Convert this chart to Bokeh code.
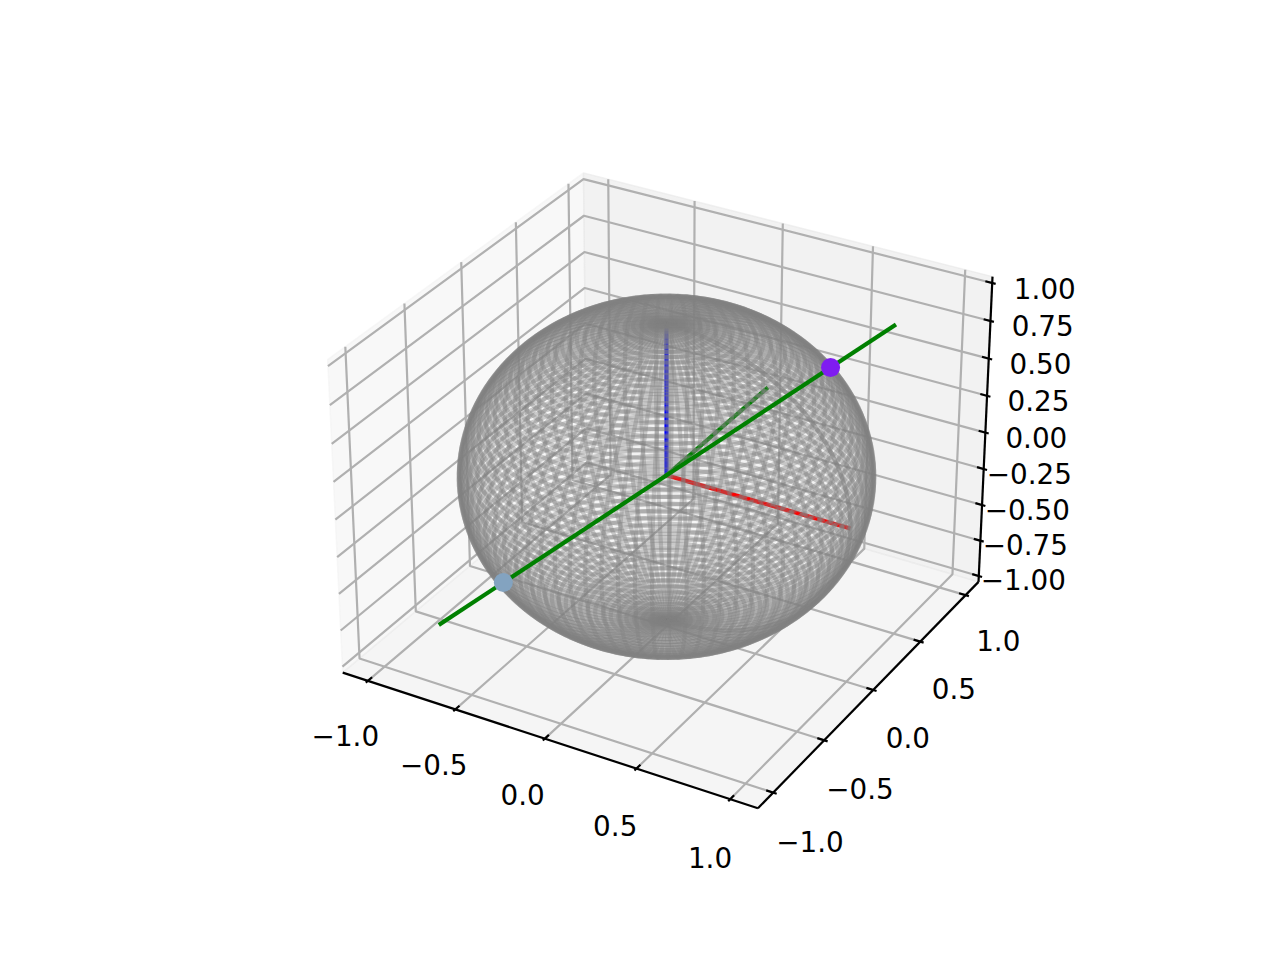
import numpy as np
from bokeh.plotting import figure
from bokeh.models import Range1d
from bokeh.core.properties import value
from bokeh.embed import file_html
from bokeh.resources import INLINE

# --- chart values ---
x_ticks = [-1.0, -0.5, 0.0, 0.5, 1.0]
y_ticks = [-1.0, -0.5, 0.0, 0.5, 1.0]
z_ticks = [-1.0, -0.75, -0.5, -0.25, 0.0, 0.25, 0.5, 0.75, 1.0]
x_tick_labels = ["\u22121.0", "\u22120.5", "0.0", "0.5", "1.0"]
y_tick_labels = ["\u22121.0", "\u22120.5", "0.0", "0.5", "1.0"]
z_tick_labels = ["\u22121.00", "\u22120.75", "\u22120.50", "\u22120.25", "0.00", "0.25", "0.50", "0.75", "1.00"]
x_lim = (-1.1458, 1.1458)
y_lim = (-1.1458, 1.1458)
z_lim = (-1.0417, 1.0417)
sphere_radius = 1.0
n_u = 80
n_v = 80
origin = (0.0, 0.0, 0.0)
x_unit = (1.0, 0.0, 0.0)
y_unit = (0.0, 1.0, 0.0)
z_unit = (0.0, 0.0, 1.0)
state_vector_from = (-0.8, -0.8, -0.8)
state_vector_to = (0.8, 0.8, 0.8)
point_up = (0.577, 0.577, 0.577)
point_down = (-0.577, -0.577, -0.577)

# --- matplotlib-like 3D camera ---
ELEV, AZIM, DIST = np.radians(30.0), np.radians(-60.0), 10.0
ASPECT = np.array([4.0, 4.0, 3.0]) * 1.8294640721620434 * 25 / 24 / np.linalg.norm([4, 4, 3])
PS = np.array([np.cos(ELEV) * np.cos(AZIM), np.cos(ELEV) * np.sin(AZIM), np.sin(ELEV)])
EYE = ASPECT / 2 + DIST * PS
U = np.cross([0, 0, 1.0], PS); U /= np.linalg.norm(U)
V = np.cross(PS, U)
MINS = np.array([x_lim[0], y_lim[0], z_lim[0]])
MAXS = np.array([x_lim[1], y_lim[1], z_lim[1]])
AX_L, AX_B, AX_S = 286.4, 105.6, 739.2
XL, XH = -0.95 / DIST, 0.9 / DIST


def proj(pts):
    pts = np.atleast_2d(np.asarray(pts, float))
    b = (pts - MINS) / (MAXS - MINS) * ASPECT - EYE
    d = -(b @ PS)
    sx = (b @ U) / d
    sy = (b @ V) / d
    px = AX_L + (sx - XL) / (XH - XL) * AX_S
    py = 960 - AX_B - (sy - XL) / (XH - XL) * AX_S
    return px, py


p = figure(width=1280, height=960, x_range=Range1d(0, 1280), y_range=Range1d(960, 0),
           output_backend="svg", toolbar_location=None, min_border=0,
           background_fill_color="white", border_fill_color="white", outline_line_color=None)
p.axis.visible = False
p.grid.visible = False

x0, y0, z0 = MINS
x1, y1, z1 = MAXS


def poly(corners, grey):
    px, py = proj(corners)
    c = (int(grey * 255),) * 3
    p.patch(list(px), list(py), fill_color=c, fill_alpha=0.5, line_color=c, line_alpha=0.5, line_width=1.4)


poly([(x0, y0, z0), (x0, y1, z0), (x0, y1, z1), (x0, y0, z1)], 0.95)
poly([(x0, y1, z0), (x1, y1, z0), (x1, y1, z1), (x0, y1, z1)], 0.90)
poly([(x0, y0, z0), (x1, y0, z0), (x1, y1, z0), (x0, y1, z0)], 0.925)

# gridlines
gx, gy = [], []
def add_grid(pts):
    a, b = proj(pts)
    gx.append(list(a)); gy.append(list(b))
for t in x_ticks:
    add_grid([(t, y0, z0), (t, y1, z0), (t, y1, z1)])
for t in y_ticks:
    add_grid([(x0, t, z1), (x0, t, z0), (x1, t, z0)])
for t in z_ticks:
    add_grid([(x0, y0, t), (x0, y1, t), (x1, y1, t)])
p.multi_line(gx, gy, line_color="#b0b0b0", line_width=2.2)

# axis lines and ticks
lw = 2.2
def seg(a, b):
    px, py = proj([a, b])
    p.line(list(px), list(py), line_color="black", line_width=lw)

seg((x0, y0, z0), (x1, y0, z0))
seg((x1, y0, z0), (x1, y1, z0))
seg((x1, y1, z0), (x1, y1, z1))

DELTA = (MAXS - MINS) * 0.08
LABEL_D = (3.5 + 21.0) * 48 / (2 * 739.2 * 72 / 200) * DELTA
FONT = value("DejaVu Sans")


def ticks(values, labels, build, dx, dy, minus_dx=0.0):
    lx, ly = [], []
    for t, lab in zip(values, labels):
        a, b, c = build(t)
        seg(a, b)
        px, py = proj([c])
        lx.append(px[0] + dx + (minus_dx if lab.startswith("\u2212") else 0.0))
        ly.append(py[0] + dy)
    p.text(lx, ly, text=labels, text_font=FONT, text_font_size="27.8px",
           text_align="center", text_baseline="middle", text_color="black")


ticks(x_ticks, x_tick_labels, lambda t: ((t, y0 - .1 * DELTA[1], z0), (t, y0 + .2 * DELTA[1], z0), (t, y0 - LABEL_D[1], z0)), 23.5, 14, 1.5)
ticks(y_ticks, y_tick_labels, lambda t: ((x1 + .1 * DELTA[0], t, z0), (x1 - .2 * DELTA[0], t, z0), (x1 + LABEL_D[0], t, z0)), -41, 24)
ticks(z_ticks, z_tick_labels, lambda t: ((x1 + .1 * DELTA[0], y1, t), (x1 - .2 * DELTA[0], y1, t), (x1 + LABEL_D[0], y1, t * 0.99)), -24, -16, -5)


def line3d(a, b, color, width=4.17, cap="butt"):
    px, py = proj([a, b])
    p.line(list(px), list(py), line_color=color, line_width=width, line_cap=cap)


# reference axes under the mesh
line3d(origin, z_unit, "#0000ff")
line3d(origin, x_unit, "#ff0000")
line3d(origin, y_unit, "#008000", cap="square")

# wireframe sphere
u = np.linspace(0, 2 * np.pi, n_u)
v = np.linspace(0, np.pi, n_v)
X = sphere_radius * np.outer(np.cos(u), np.sin(v))
Y = sphere_radius * np.outer(np.sin(u), np.sin(v))
Z = sphere_radius * np.outer(np.ones_like(u), np.cos(v))
wx, wy = [], []
for i in range(n_u):
    a, b = proj(np.c_[X[i], Y[i], Z[i]])
    wx.append(list(a)); wy.append(list(b))
for j in range(n_v):
    a, b = proj(np.c_[X[:, j], Y[:, j], Z[:, j]])
    wx.append(list(a)); wy.append(list(b))
p.multi_line(wx, wy, line_color="#808080", line_alpha=0.38, line_width=4.17)

# state vector and its two points
line3d(state_vector_from, state_vector_to, "#008000", cap="square")
px, py = proj([point_up, point_down])
p.scatter(list(px), list(py), size=19, marker="circle",
          fill_color=["#7f1cf0", "#83a3c0"], line_color=None)

open("out.html", "w").write(file_html(p, INLINE))
